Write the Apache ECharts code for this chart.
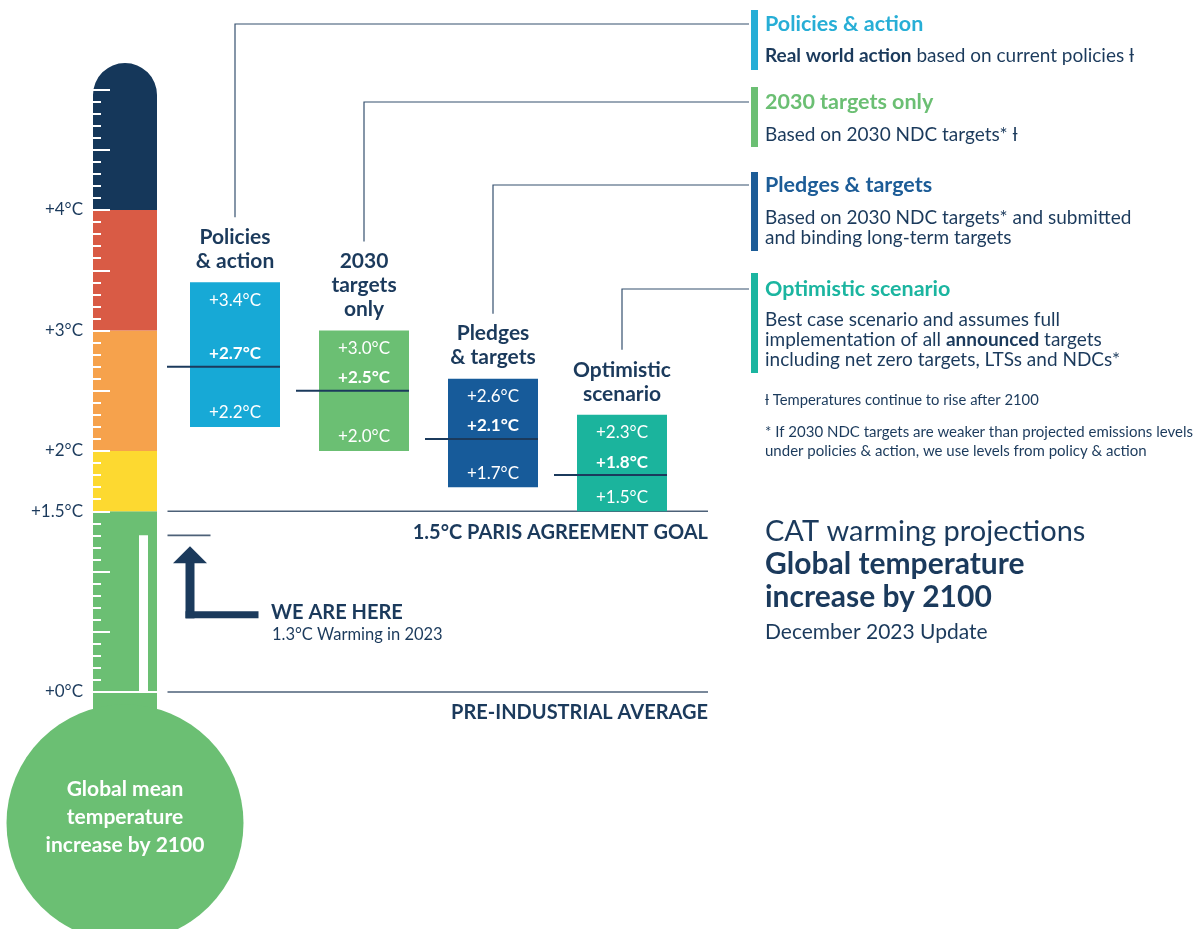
<!DOCTYPE html>
<html>
<head>
<meta charset="utf-8">
<script src="https://cdn.jsdelivr.net/npm/echarts@6/dist/echarts.min.js"></script>
<style>
  html, body { margin: 0; padding: 0; background: #ffffff; }
  #chart { width: 1196px; height: 929px; }
</style>
</head>
<body>
<div id="chart"></div>
<script>
// ---- Data: warming by 2100 per scenario (°C) ----
const scenarioNames = ['Policies & action', '2030 targets only', 'Pledges & targets', 'Optimistic scenario'];
const scenarioTitleLines = [['Policies', '& action'], ['2030', 'targets', 'only'], ['Pledges', '& targets'], ['Optimistic', 'scenario']];
const scenarioLow = [2.2, 2.0, 1.7, 1.5];
const scenarioMid = [2.7, 2.5, 2.1, 1.8];
const scenarioHigh = [3.4, 3.0, 2.6, 2.3];

// Thermometer colour bands (°C)
const bandLower = [0, 1.5, 2, 3, 4];
const bandUpper = [1.5, 2, 3, 4, 5.22];
const tickLabelValues = [0, 1.5, 2, 3, 4];

const currentWarming = 1.3;
const referenceLevels = [1.5, 0];
const referenceLabels = ['1.5°C PARIS AGREEMENT GOAL', 'PRE-INDUSTRIAL AVERAGE'];

// ---- Styles & layout ----
const FONT = 'Lato, "Open Sans", "DejaVu Sans", sans-serif';
const NAVY = '#1b3a5c';
const LINE = '#4d6178';
const bandColors = ['#6bbf73', '#fdd930', '#f6a24c', '#d95b45', '#15375a'];
const scenarioColors = ['#17a9d6', '#6bbf73', '#175b9a', '#1bb49d'];
const legendTitleColors = ['#27aed6', '#6bbf73', '#1c5c97', '#1bb5a0'];
const legendRowY = [24, 102, 185, 289];
const legendBarTop = [10, 87, 172, 273];
const legendBarBottom = [70, 147, 251, 373];
const legendDescTop = [46, 125, 208, 310];
const legendDescs = [
  '{b|Real world action} based on current policies ƚ',
  'Based on 2030 NDC targets* ƚ',
  'Based on 2030 NDC targets* and submitted\nand binding long-term targets',
  'Best case scenario and assumes full\nimplementation of all {b|announced} targets\nincluding net zero targets, LTSs and NDCs*'
];
const LEGEND_X = 765;
const LEGEND_BAR_X = 751;

const GRID_TOP = 89.5, GRID_HEIGHT = 602.5; // 0–5 °C

const chart = echarts.init(document.getElementById('chart'), null, { renderer: 'canvas' });

function label(x, y, text, size, extra) {
  return {
    type: 'text', x: x, y: y, z: 10,
    style: Object.assign({
      text: text, fontSize: size, fontFamily: FONT, fill: NAVY,
      align: 'left', verticalAlign: 'middle'
    }, extra || {})
  };
}

// Thermometer: colour bands, bulb, current-warming column
function renderThermometer(params, api) {
  const idx = params.dataIndex;
  const lo = api.value(1), hi = api.value(2);
  const pLo = api.coord([0, lo]);
  const pHi = api.coord([0, hi]);
  const w = api.size([1, 0])[0];
  const left = pLo[0] - w / 2;
  const last = idx === bandLower.length - 1;
  const children = [{
    type: 'rect',
    shape: { x: left, y: pHi[1], width: w, height: pLo[1] - pHi[1], r: last ? [w / 2, w / 2, 0, 0] : 0 },
    style: { fill: bandColors[idx] }
  }];
  if (idx === 0) {
    const y0 = pLo[1];
    const cx = pLo[0];
    const yNow = api.coord([0, currentWarming])[1];
    children.push(
      { type: 'rect', shape: { x: left, y: y0 - 1, width: w, height: 40 }, style: { fill: bandColors[0] } },
      { type: 'circle', shape: { cx: cx, cy: y0 + 131, r: 118.5 }, style: { fill: bandColors[0] } },
      { type: 'rect', shape: { x: left + 46, y: yNow, width: 9, height: y0 - yNow }, style: { fill: '#ffffff' } },
      { type: 'line', shape: { x1: left, y1: y0, x2: left + w, y2: y0 }, style: { stroke: '#ffffff', lineWidth: 2 } }
    );
    ['Global mean', 'temperature', 'increase by 2100'].forEach(function (t, k) {
      children.push({
        type: 'text',
        style: {
          text: t, x: cx, y: y0 + 97 + k * 28, fill: '#ffffff', fontSize: 21, fontWeight: 'bold',
          fontFamily: FONT, align: 'center', verticalAlign: 'middle'
        }
      });
    });
  }
  return { type: 'group', children: children };
}

// Scenario ranges: box, median line, values, titles and connectors
function renderScenario(params, api) {
  const i = api.value(0);
  const lo = api.value(1), mid = api.value(2), hi = api.value(3);
  const pTop = api.coord([i, hi]);
  const pBot = api.coord([i, lo]);
  const pMid = api.coord([i, mid]);
  const cx = pTop[0];
  const bw = 90;
  const children = [];
  children.push({
    type: 'rect',
    shape: { x: cx - bw / 2, y: pTop[1], width: bw, height: pBot[1] - pTop[1] },
    style: { fill: scenarioColors[i] }
  });
  children.push({
    type: 'line',
    shape: { x1: cx - bw / 2 - 23, y1: pMid[1], x2: cx + bw / 2, y2: pMid[1] },
    style: { stroke: NAVY, lineWidth: 2 }
  });
  const valueText = function (v, y, bold) {
    return {
      type: 'text',
      style: {
        text: '+' + v.toFixed(1) + '°C', x: cx, y: y, fill: '#ffffff',
        fontSize: 17, fontWeight: bold ? 'bold' : 'normal', fontFamily: FONT,
        align: 'center', verticalAlign: 'middle'
      }
    };
  };
  children.push(valueText(hi, pTop[1] + 18, false));
  children.push(valueText(mid, pMid[1] - 13, true));
  children.push(valueText(lo, pBot[1] - 14, false));

  const lines = scenarioTitleLines[i];
  const n = lines.length;
  lines.forEach(function (t, k) {
    children.push({
      type: 'text',
      style: {
        text: t, x: cx, y: pTop[1] - 21 - (n - 1 - k) * 24, fill: NAVY,
        fontSize: 21, fontWeight: 'bold', fontFamily: FONT,
        align: 'center', verticalAlign: 'middle'
      }
    });
  });
  const firstLineY = pTop[1] - 21 - (n - 1) * 24;
  children.push({
    type: 'polyline',
    shape: { points: [[cx, firstLineY - 20], [cx, legendRowY[i]], [LEGEND_BAR_X - 2, legendRowY[i]]] },
    style: { stroke: '#35506f', lineWidth: 1.2, fill: null }
  });
  return { type: 'group', children: children };
}

// Reference levels (1.5 °C goal, pre-industrial)
function renderReference(params, api) {
  const v = api.value(1);
  const y = api.coord([0, v])[1];
  const cs = params.coordSys;
  const x1 = cs.x - 3;
  const x2 = 708;
  return {
    type: 'group',
    children: [
      { type: 'line', shape: { x1: x1, y1: y, x2: x2, y2: y }, style: { stroke: LINE, lineWidth: 1.6 } },
      {
        type: 'text',
        style: {
          text: referenceLabels[params.dataIndex], x: x2, y: y + 21, fill: NAVY,
          fontSize: 20, fontWeight: 'bold', fontFamily: FONT, align: 'right', verticalAlign: 'middle'
        }
      }
    ]
  };
}

// "We are here" marker at current warming
function renderNow(params, api) {
  const y = api.coord([0, api.value(1)])[1];
  const cs = params.coordSys;
  const x1 = cs.x - 3;
  const ax = 190;
  return {
    type: 'group',
    children: [
      { type: 'line', shape: { x1: x1, y1: y, x2: x1 + 43, y2: y }, style: { stroke: LINE, lineWidth: 1.6 } },
      { type: 'polygon', shape: { points: [[ax, y + 11], [ax - 17, y + 28], [ax + 17, y + 28]] }, style: { fill: NAVY } },
      { type: 'rect', shape: { x: ax - 4.5, y: y + 27, width: 9, height: 56 }, style: { fill: NAVY } },
      { type: 'rect', shape: { x: ax - 4.5, y: y + 76, width: 263 - ax, height: 7 }, style: { fill: NAVY } },
      {
        type: 'text',
        style: { text: 'WE ARE HERE', x: 271, y: y + 77, fill: NAVY, fontSize: 20, fontWeight: 'bold', fontFamily: FONT, align: 'left', verticalAlign: 'middle' }
      },
      {
        type: 'text',
        style: { text: api.value(1).toFixed(1) + '°C Warming in 2023', x: 272, y: y + 99, fill: NAVY, fontSize: 16.5, fontFamily: FONT, align: 'left', verticalAlign: 'middle' }
      }
    ]
  };
}

// Right-hand legend, notes and title block
const graphics = [];
scenarioNames.forEach(function (name, i) {
  graphics.push({
    type: 'rect', z: 10,
    shape: { x: LEGEND_BAR_X, y: legendBarTop[i], width: 7, height: legendBarBottom[i] - legendBarTop[i] },
    style: { fill: legendTitleColors[i] }
  });
  graphics.push(label(LEGEND_X, legendRowY[i], name, 21.5, { fill: legendTitleColors[i], fontWeight: 'bold' }));
  graphics.push(label(LEGEND_X, legendDescTop[i], legendDescs[i], 19, {
    verticalAlign: 'top', lineHeight: 20,
    rich: { b: { fontWeight: 'bold', fontSize: 19, fontFamily: FONT, fill: NAVY, lineHeight: 20 } }
  }));
});
graphics.push(label(LEGEND_X, 400, 'ƚ Temperatures continue to rise after 2100', 14.8));
graphics.push(label(LEGEND_X, 423, '* If 2030 NDC targets are weaker than projected emissions levels\nunder policies & action, we use levels from policy & action', 15, { verticalAlign: 'top', lineHeight: 19 }));
graphics.push(label(LEGEND_X, 532, 'CAT warming projections', 29));
graphics.push(label(LEGEND_X, 564, 'Global temperature', 30, { fontWeight: 'bold' }));
graphics.push(label(LEGEND_X, 597, 'increase by 2100', 30, { fontWeight: 'bold' }));
graphics.push(label(LEGEND_X, 632, 'December 2023 Update', 21));

const option = {
  animation: false,
  backgroundColor: '#ffffff',
  textStyle: { fontFamily: FONT },
  grid: [
    { left: 93, width: 64, top: GRID_TOP, height: GRID_HEIGHT },
    { left: 170.5, width: 516, top: GRID_TOP, height: GRID_HEIGHT }
  ],
  xAxis: [
    { type: 'category', gridIndex: 0, data: ['thermometer'], show: false },
    { type: 'category', gridIndex: 1, data: scenarioNames, show: false }
  ],
  yAxis: [
    {
      type: 'value', gridIndex: 0, min: 0, max: 5, interval: 0.5, z: 10,
      axisLine: { show: false },
      axisTick: { show: true, inside: true, length: 17, lineStyle: { color: '#ffffff', width: 2 } },
      minorTick: { show: true, splitNumber: 5, length: 8, lineStyle: { color: '#ffffff', width: 2 } },
      splitLine: { show: false },
      minorSplitLine: { show: false },
      axisLabel: {
        margin: 10, color: NAVY, fontSize: 17, fontFamily: FONT,
        formatter: function (v) {
          const hit = tickLabelValues.find(function (t) { return Math.abs(t - v) < 1e-6; });
          return hit === undefined ? '' : '+' + hit + '°C';
        }
      }
    },
    { type: 'value', gridIndex: 1, min: 0, max: 5, show: false }
  ],
  graphic: graphics,
  series: [
    {
      type: 'custom', name: 'thermometer', xAxisIndex: 0, yAxisIndex: 0, z: 2,
      renderItem: renderThermometer,
      encode: { x: 0, y: [1, 2] },
      data: bandLower.map(function (lo, i) { return [0, lo, bandUpper[i]]; })
    },
    {
      type: 'custom', name: 'reference', xAxisIndex: 1, yAxisIndex: 1, z: 3,
      renderItem: renderReference,
      encode: { x: 0, y: 1 },
      data: referenceLevels.map(function (v) { return [0, v]; })
    },
    {
      type: 'custom', name: 'now', xAxisIndex: 1, yAxisIndex: 1, z: 3,
      renderItem: renderNow,
      encode: { x: 0, y: 1 },
      data: [[0, currentWarming]]
    },
    {
      type: 'custom', name: 'scenarios', xAxisIndex: 1, yAxisIndex: 1, z: 4,
      renderItem: renderScenario,
      encode: { x: 0, y: [1, 2, 3] },
      data: scenarioNames.map(function (n, i) { return [i, scenarioLow[i], scenarioMid[i], scenarioHigh[i]]; })
    }
  ]
};

chart.setOption(option);
</script>
</body>
</html>
